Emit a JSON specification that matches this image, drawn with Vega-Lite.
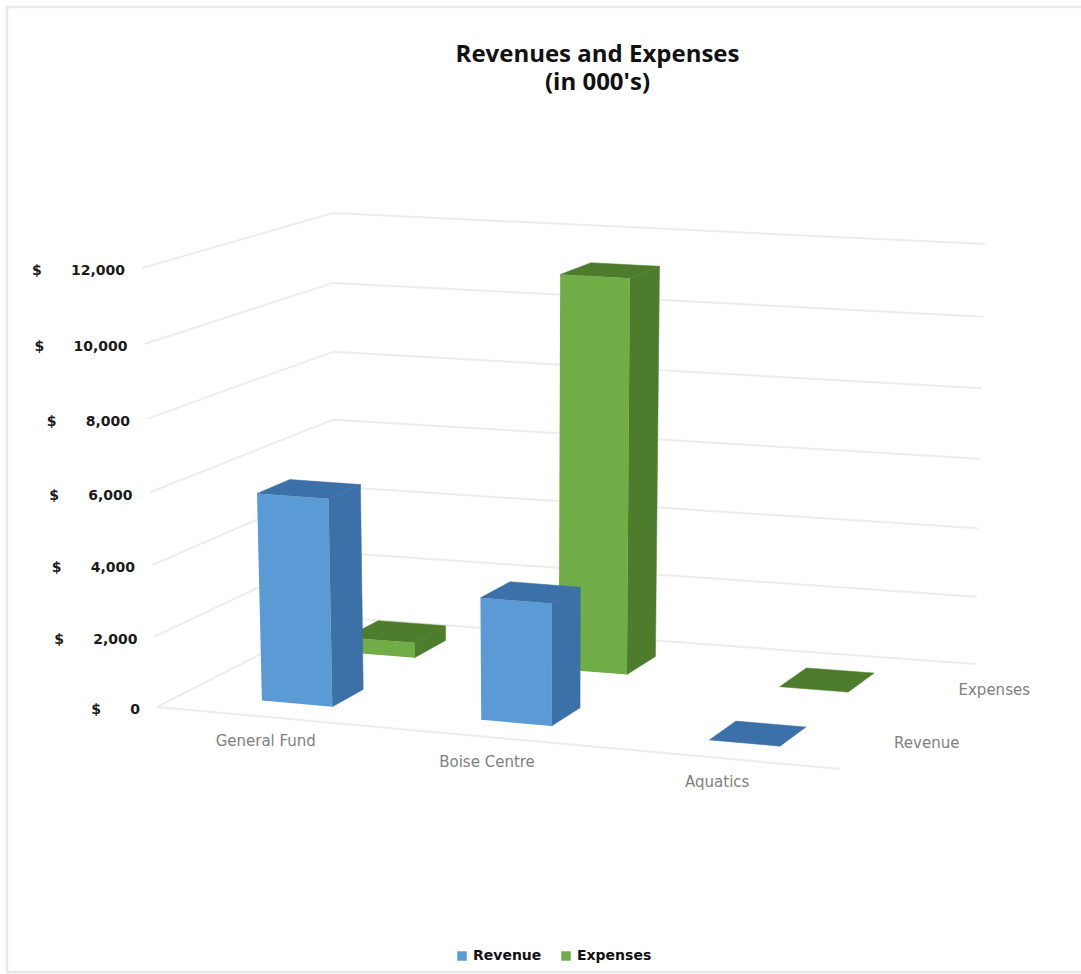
{
  "$schema": "https://vega.github.io/schema/vega-lite/v6.json",
  "width": 1079,
  "height": 965,
  "autosize": "none",
  "padding": {"left": 7, "top": 7, "right": 0, "bottom": 2},
  "background": "white",
  "config": {
    "view": {"stroke": "#e8e8e8", "strokeWidth": 2.5},
    "legend": {
      "title": null,
      "orient": "none",
      "legendX": 448,
      "legendY": 942,
      "direction": "horizontal",
      "columns": 2,
      "columnPadding": 17,
      "symbolType": "square",
      "symbolSize": 90,
      "symbolStrokeWidth": 0,
      "labelFont": "DejaVu Sans",
      "labelFontWeight": "bold",
      "labelFontSize": 14,
      "labelColor": "#111111"
    }
  },
  "title": {
    "text": ["Revenues and Expenses", "(in 000's)"],
    "font": "Open Sans",
    "fontWeight": "bold",
    "fontSize": 24,
    "lineHeight": 28,
    "color": "#111111",
    "anchor": "middle",
    "frame": "group",
    "baseline": "top",
    "dx": 51,
    "dy": 92
  },
  "datasets": {
    "bars": [
      {"category": "General Fund", "series": "Revenue", "value": 5840},
      {"category": "General Fund", "series": "Expenses", "value": 450},
      {"category": "Boise Centre", "series": "Revenue", "value": 3430},
      {"category": "Boise Centre", "series": "Expenses", "value": 11240},
      {"category": "Aquatics", "series": "Revenue", "value": 0},
      {"category": "Aquatics", "series": "Expenses", "value": 0}
    ],
    "ticks": [
      {"value": 0}, {"value": 2000}, {"value": 4000}, {"value": 6000},
      {"value": 8000}, {"value": 10000}, {"value": 12000}
    ]
  },
  "encoding": {
    "x": {"field": "px", "type": "quantitative", "axis": null, "scale": {"domain": [7, 1086], "nice": false, "zero": false}},
    "y": {"field": "py", "type": "quantitative", "axis": null, "scale": {"domain": [972, 7], "nice": false, "zero": false}}
  },
  "layer": [
    {
      "data": {"name": "ticks"},
      "transform": [
        {"calculate": "datum.value / 12000", "as": "w"},
        {"calculate": "datum.w - 0.046 * datum.w * (1 - datum.w)", "as": "wp"},
        {"calculate": "[{i: 0, u: 0, t: 0}, {i: 1, u: 0, t: 1}, {i: 2, u: 1, t: 1}]", "as": "pts"},
        {"flatten": ["pts"]},
        {"calculate": "datum.pts.i", "as": "i"},
        {"calculate": "datum.pts.u", "as": "u"},
        {"calculate": "datum.pts.t", "as": "t"},
        {"calculate": "(1-datum.t)*((1-datum.u)*157+datum.u*840)+datum.t*((1-datum.u)*333+datum.u*975)+datum.w*((1-datum.t)*((1-datum.u)*-15+datum.u*10)+datum.t*((1-datum.u)*0+datum.u*10))", "as": "px"},
        {"calculate": "(1-datum.t)*((1-datum.u)*707+datum.u*769)+datum.t*((1-datum.u)*617+datum.u*664)-datum.wp*((1-datum.t)*((1-datum.u)*439+datum.u*456)+datum.t*((1-datum.u)*404+datum.u*420))", "as": "py"},
        {"calculate": "'$\u00a0\u00a0\u00a0\u00a0\u00a0\u00a0' + format(datum.value, ',')", "as": "label"}
      ],
      "layer": [
        {
          "mark": {"type": "line", "stroke": "#ededed", "strokeWidth": 2},
          "encoding": {"detail": {"field": "value"}, "order": {"field": "i"}}
        },
        {
          "transform": [{"filter": "datum.i === 0"}],
          "mark": {"type": "text", "align": "right", "baseline": "middle", "dx": -17, "dy": 3, "font": "DejaVu Sans", "fontWeight": "bold", "fontSize": 14, "fill": "#1a1a1a"},
          "encoding": {"text": {"field": "label"}}
        }
      ]
    },
    {
      "data": {"name": "ticks"},
      "transform": [
        {"filter": "datum.value === 0"},
        {"calculate": "[{i: 0, u: 0}, {i: 1, u: 1}]", "as": "pts"},
        {"flatten": ["pts"]},
        {"calculate": "datum.pts.i", "as": "i"},
        {"calculate": "(1-datum.pts.u)*157+datum.pts.u*840", "as": "px"},
        {"calculate": "(1-datum.pts.u)*707+datum.pts.u*769", "as": "py"}
      ],
      "mark": {"type": "line", "stroke": "#ededed", "strokeWidth": 2},
      "encoding": {"order": {"field": "i"}}
    },
    {
      "data": {"name": "bars"},
      "transform": [
        {"calculate": "indexof(['General Fund', 'Boise Centre', 'Aquatics'], datum.category)", "as": "c"},
        {"calculate": "indexof(['Revenue', 'Expenses'], datum.series)", "as": "s"},
        {"calculate": "[{face: 'front', i: 0, a: 0, b: 0, h: 0}, {face: 'front', i: 1, a: 1, b: 0, h: 0}, {face: 'front', i: 2, a: 1, b: 0, h: 1}, {face: 'front', i: 3, a: 0, b: 0, h: 1}, {face: 'side', i: 0, a: 1, b: 0, h: 0}, {face: 'side', i: 1, a: 1, b: 1, h: 0}, {face: 'side', i: 2, a: 1, b: 1, h: 1}, {face: 'side', i: 3, a: 1, b: 0, h: 1}, {face: 'top', i: 0, a: 0, b: 0, h: 1}, {face: 'top', i: 1, a: 1, b: 0, h: 1}, {face: 'top', i: 2, a: 1, b: 1, h: 1}, {face: 'top', i: 3, a: 0, b: 1, h: 1}]", "as": "corners"},
        {"flatten": ["corners"]},
        {"calculate": "datum.corners.face", "as": "face"},
        {"calculate": "datum.corners.i", "as": "i"},
        {"calculate": "[0.168, 0.492, 0.829][datum.c] - 0.007 * datum.s + (datum.corners.a - 0.5) * 0.104", "as": "u"},
        {"calculate": "(datum.s * 1.04 + 0.3 + 0.37 * datum.corners.b) / 2", "as": "t"},
        {"calculate": "datum.corners.h * datum.value / 12000", "as": "w"},
        {"calculate": "datum.w - 0.046 * datum.w * (1 - datum.w)", "as": "wp"},
        {"calculate": "(1-datum.t)*((1-datum.u)*157+datum.u*840)+datum.t*((1-datum.u)*333+datum.u*975)+datum.w*((1-datum.t)*((1-datum.u)*-15+datum.u*10)+datum.t*((1-datum.u)*0+datum.u*10))", "as": "px"},
        {"calculate": "(1-datum.t)*((1-datum.u)*707+datum.u*769)+datum.t*((1-datum.u)*617+datum.u*664)-datum.wp*((1-datum.t)*((1-datum.u)*439+datum.u*456)+datum.t*((1-datum.u)*404+datum.u*420))", "as": "py"}
      ],
      "layer": [
        {
          "transform": [{"filter": "datum.series === 'Expenses' && datum.face !== 'front'"}],
          "mark": {"type": "line", "interpolate": "linear-closed", "fill": "#4d7c2c", "stroke": "#4d7c2c", "strokeWidth": 0.5},
          "encoding": {"detail": [{"field": "category"}, {"field": "face"}], "order": {"field": "i"}}
        },
        {
          "transform": [{"filter": "datum.series === 'Expenses' && datum.face === 'front'"}],
          "mark": {"type": "line", "interpolate": "linear-closed", "strokeWidth": 0},
          "encoding": {
            "detail": {"field": "category"},
            "order": {"field": "i"},
            "fill": {"field": "series", "type": "nominal", "scale": {"domain": ["Revenue", "Expenses"], "range": ["#5b9bd5", "#70ad47"]}}
          }
        },
        {
          "transform": [{"filter": "datum.series === 'Revenue' && datum.face !== 'front'"}],
          "mark": {"type": "line", "interpolate": "linear-closed", "fill": "#3b70a8", "stroke": "#3b70a8", "strokeWidth": 0.5},
          "encoding": {"detail": [{"field": "category"}, {"field": "face"}], "order": {"field": "i"}}
        },
        {
          "transform": [{"filter": "datum.series === 'Revenue' && datum.face === 'front'"}],
          "mark": {"type": "line", "interpolate": "linear-closed", "strokeWidth": 0},
          "encoding": {
            "detail": {"field": "category"},
            "order": {"field": "i"},
            "fill": {"field": "series", "type": "nominal", "scale": {"domain": ["Revenue", "Expenses"], "range": ["#5b9bd5", "#70ad47"]}}
          }
        }
      ]
    },
    {
      "data": {"name": "bars"},
      "transform": [
        {"filter": "datum.series === 'Revenue'"},
        {"calculate": "[0.168, 0.492, 0.829][indexof(['General Fund', 'Boise Centre', 'Aquatics'], datum.category)]", "as": "u"},
        {"calculate": "(1-datum.u)*157+datum.u*840", "as": "px"},
        {"calculate": "(1-datum.u)*707+datum.u*769", "as": "py"}
      ],
      "mark": {"type": "text", "align": "center", "baseline": "middle", "dx": -6, "dy": 24, "font": "DejaVu Sans", "fontSize": 15, "fill": "#808080"},
      "encoding": {"text": {"field": "category"}}
    },
    {
      "data": {"name": "bars"},
      "transform": [
        {"filter": "datum.category === 'Aquatics'"},
        {"calculate": "(indexof(['Revenue', 'Expenses'], datum.series) + 0.5) / 2", "as": "t"},
        {"calculate": "(1-datum.t)*840+datum.t*975", "as": "px"},
        {"calculate": "(1-datum.t)*769+datum.t*664", "as": "py"}
      ],
      "mark": {"type": "text", "align": "center", "baseline": "middle", "dx": 53, "dy": 0, "font": "DejaVu Sans", "fontSize": 15, "fill": "#808080"},
      "encoding": {"text": {"field": "series"}}
    }
  ]
}
